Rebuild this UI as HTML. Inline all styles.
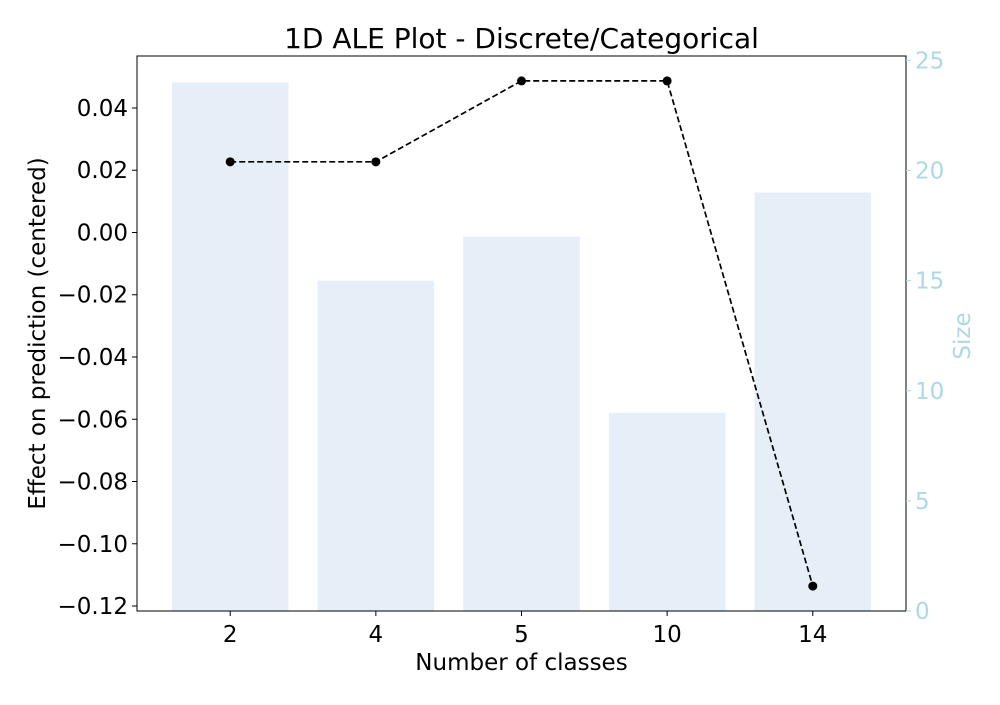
<!DOCTYPE html>
<html><head><meta charset="utf-8"><style>
body{margin:0;background:#fff;}
svg text{font-family:"DejaVu Sans","Liberation Sans",sans-serif;}
</style></head><body>
<svg id="c" width="1000" height="700" xmlns="http://www.w3.org/2000/svg"></svg>
<script>
const categories = ["2","4","5","10","14"];
const sizes = [24,15,17,9,19];
const effects = [0.0227,0.0227,0.0487,0.0487,-0.1136];
const leftTicks = [0.04,0.02,0.00,-0.02,-0.04,-0.06,-0.08,-0.10,-0.12];
const leftTickLabels = ["0.04","0.02","0.00","\u22120.02","\u22120.04","\u22120.06","\u22120.08","\u22120.10","\u22120.12"];
const rightTicks = [0,5,10,15,20,25];

const L=137,R=906,T=56,B=611;
const xs = i => L + (i + 0.64) / 5.28 * (R - L);
const yl = v => B - (v - (-0.1216)) / (0.0567 - (-0.1216)) * (B - T);
const yr = v => B - v / 25.2 * (B - T);
const bw = 0.8 / 5.28 * (R - L);
const svg = document.getElementById('c');
const NS = "http://www.w3.org/2000/svg";
function mk(tag, attrs, parent){const e=document.createElementNS(NS,tag);for(const k in attrs)e.setAttribute(k,attrs[k]);(parent||svg).appendChild(e);return e;}

sizes.forEach((s,i)=>{
  const r=mk('rect',{x:xs(i)-bw/2,y:yr(s),width:bw,height:B-yr(s),fill:'#e6eef7'});
  
  
});
const pts = effects.map((v,i)=>xs(i)+','+yl(v)).join(' ');
const line=mk('polyline',{points:pts,fill:'none',stroke:'#000','stroke-width':1.7,'stroke-dasharray':'6,3'});


effects.forEach((v,i)=>{
  const c=mk('circle',{cx:xs(i),cy:yl(v),r:4.5,fill:'#000'});
  
  
});
const frame=mk('rect',{x:L,y:T,width:R-L,height:B-T,fill:'none',stroke:'#000','stroke-width':1});



leftTicks.forEach((v,i)=>{
  mk('line',{x1:L-5,x2:L,y1:yl(v),y2:yl(v),stroke:'#000'});
  const t=mk('text',{x:L-9,y:yl(v)+8,'text-anchor':'end','font-size':23});
  t.textContent=leftTickLabels[i];
  
  
});
rightTicks.forEach(v=>{
  mk('line',{x1:R,x2:R+5,y1:yr(v),y2:yr(v),stroke:'#add8e6'});
  const t=mk('text',{x:R+9,y:yr(v)+8,'font-size':23,fill:'#add8e6'});
  t.textContent=v;
  
  
});
categories.forEach((c,i)=>{
  mk('line',{x1:xs(i),x2:xs(i),y1:B,y2:B+5,stroke:'#000'});
  const t=mk('text',{x:xs(i),y:B+31,'text-anchor':'middle','font-size':23});
  t.textContent=c;
  
  
});
let t=mk('text',{x:(L+R)/2,y:48,'text-anchor':'middle','font-size':28});
t.textContent='1D ALE Plot - Discrete/Categorical';


t=mk('text',{x:(L+R)/2,y:670,'text-anchor':'middle','font-size':23});
t.textContent='Number of classes';


t=mk('text',{x:45,y:(T+B)/2,'text-anchor':'middle','font-size':23,transform:'rotate(-90 45 '+((T+B)/2)+')'});
t.textContent='Effect on prediction (centered)';


t=mk('text',{x:970,y:336,'text-anchor':'middle','font-size':23,fill:'#add8e6',transform:'rotate(-90 970 336)'});
t.textContent='Size';


</script>
</body></html>
